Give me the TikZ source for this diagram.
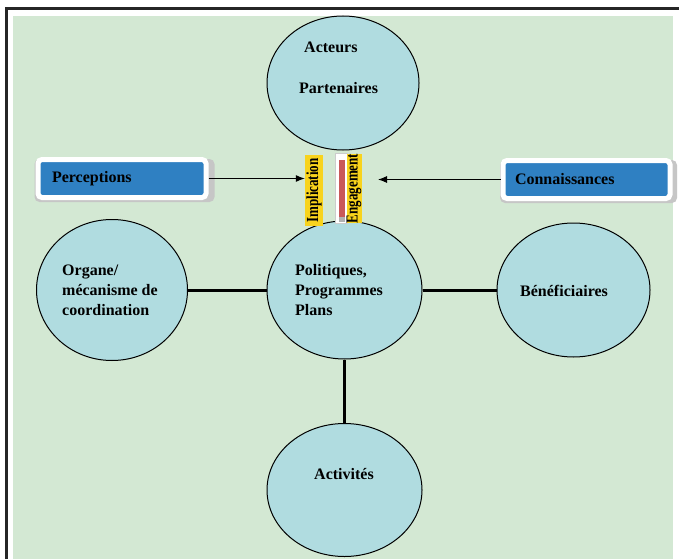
\documentclass[tikz,border=0pt]{standalone}
\usepackage{fontspec}
\setmainfont{Liberation Serif}
\usetikzlibrary{arrows.meta,shapes.geometric,shadows}
\definecolor{bg}{HTML}{D3E8D3}
\definecolor{ell}{HTML}{B0DCE0}
\definecolor{boxblue}{HTML}{2F80C2}
\definecolor{yel}{HTML}{F8D31C}
\definecolor{redbar}{HTML}{C9585A}
\begin{document}
\begin{tikzpicture}[x=1pt,y=-1pt,
  circ/.style={ellipse, draw=black, line width=1pt, fill=ell, inner sep=0pt},
  lbl/.style={font=\fontsize{16}{20}\selectfont\bfseries, anchor=west, align=left, inner sep=0pt},
  conn/.style={line width=3pt},
  arr/.style={line width=1pt, -{Latex[length=9pt,width=7pt]}},
  shadowbox/.style={rectangle, rounded corners=5pt, fill=gray!45, inner sep=0pt},
  bluebox/.style={rectangle, rounded corners=4pt, fill=boxblue, draw=white, line width=5pt,
    minimum height=38pt, align=left, font=\fontsize{16}{20}\selectfont\bfseries},
  yelbox/.style={rectangle, fill=yel, inner sep=0pt},
  vtext/.style={rotate=90, inner sep=0pt, font=\fontsize{13}{13}\selectfont\bfseries}
]
\useasboundingbox (0,0) rectangle (679,559);
\fill[white] (0,0) rectangle (679,559);
\fill[bg] (13,16) rectangle (673,559);
\draw[line width=3pt, black!85] (6.5,559) -- (6.5,9) -- (679,9);

% ellipses
\node[circ, minimum width=152pt, minimum height=134pt] (top) at (343,83) {};
\node[circ, minimum width=155pt, minimum height=138pt] (mid) at (344.5,290) {};
\node[circ, minimum width=151pt, minimum height=141pt] (left) at (112,290) {};
\node[circ, minimum width=153pt, minimum height=134pt] (right) at (573.5,290) {};
\node[circ, minimum width=155pt, minimum height=133pt] (bot) at (344.5,490) {};

% connectors
\draw[conn] (left.east) -- (mid.west);
\draw[conn] (mid.east) -- (right.west);
\draw[conn] (mid.south) -- (bot.north);

% texts
\node[lbl] (t1) at (304,47) {Acteurs};
\node[lbl] (t2) at (299,88) {Partenaires};
\node[lbl] (t3) at (62,290) {Organe/\\mécanisme de\\coordination};
\node[lbl] (t4) at (295,290) {Politiques,\\Programmes\\Plans};
\node[lbl] (t5) at (520,291) {Bénéficiaires};
\node[lbl] (t6) at (314,474) {Activités};

% blue boxes with shadows
\node[shadowbox, minimum width=180pt, minimum height=43pt] (percs) at (124.5,180.5) {};
\node[shadowbox, minimum width=177pt, minimum height=43pt] (conns) at (588.5,181.5) {};
\node[bluebox, text width=140pt, inner xsep=14pt] (perc) at (122,178.5) {Perceptions};
\node[bluebox, text width=143pt, inner xsep=12pt] (conn) at (586.5,179.5) {Connaissances};

% centre bars
\node[yelbox, minimum width=18pt, minimum height=71pt] (impl) at (314,190.5) {};
\node[vtext] (implt) at (impl.center) {\scalebox{1}[1.3]{Implication}};
\node[rectangle, fill=white, draw=gray!40, line width=0.6pt, minimum width=12pt, minimum height=70pt, inner sep=0pt] (wbar) at (341,188) {};
\node[rectangle, fill=gray!60, minimum width=6pt, minimum height=6pt, inner sep=0pt] (gbar) at (342,219) {};
\node[rectangle, fill=redbar, minimum width=6pt, minimum height=57pt, inner sep=0pt] (rbar) at (342,188.5) {};
\node[yelbox, minimum width=15pt, minimum height=69pt] (eng) at (354,188.5) {};
\node[vtext] (engt) at (eng.center) {\scalebox{1}[1.3]{Engagement}};

% arrows
\coordinate (rtip) at (378,180);
\draw[arr] (perc.east) -- (perc.east -| impl.west);
\draw[arr] (conn.west) -- (conn.west -| rtip);
\end{tikzpicture}
\end{document}
